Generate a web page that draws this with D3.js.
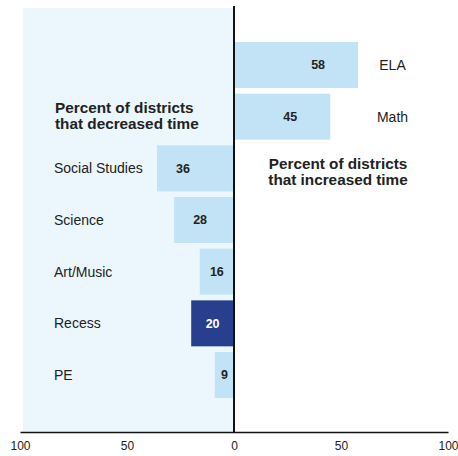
<!DOCTYPE html>
<html><head><meta charset="utf-8">
<script src="https://cdn.jsdelivr.net/npm/d3@7"></script>
<style>body{margin:0;background:#fff}svg{display:block}text{font-family:"Liberation Sans",Arial,sans-serif}</style>
</head><body><div id="chart"></div>
<script>
const categories = ["ELA","Math","Social Studies","Science","Art/Music","Recess","PE"];
const values = [58,45,-36,-28,-16,-20,-9];
const highlight = ["Recess"];
const tickValues = [-100,-50,0,50,100];
const leftTitle = ["Percent of districts","that decreased time"];
const rightTitle = ["Percent of districts","that increased time"];

const W=458,H=456;
const svg=d3.select("#chart").append("svg").attr("width",W).attr("height",H);
const x=d3.scaleLinear().domain([-100,100]).range([20,448]);
const y=d3.scaleBand().domain(categories).range([39.16,400.86]).paddingInner(0.11).paddingOuter(0.055);
const axisY=432;

// left panel
svg.append("rect").attr("x",23).attr("y",8).attr("width",x(0)-23).attr("height",axisY-8).attr("fill","#EBF7FD");

// bars
svg.selectAll("rect.bar").data(categories).join("rect").attr("class","bar")
 .attr("x",(d,i)=>x(Math.min(0,values[i])))
 .attr("width",(d,i)=>Math.abs(x(values[i])-x(0)))
 .attr("y",d=>y(d)).attr("height",y.bandwidth())
 .attr("fill",d=>highlight.includes(d)?"#283F8D":"#C2E3F6");

// value labels
svg.selectAll("text.val").data(categories).join("text").attr("class","val")
 .attr("x",(d,i)=>{const v=values[i];const w=Math.abs(x(v)-x(0));
   return v<0? x(v)+Math.min(w/2,26) : x(v)-Math.min(w/2,40);})
 .attr("y",d=>y(d)+y.bandwidth()/2).attr("dy","0.35em")
 .attr("text-anchor","middle").attr("font-size",12.5).attr("font-weight","bold")
 .attr("fill",d=>highlight.includes(d)?"#fff":"#222")
 .text((d,i)=>Math.abs(values[i]));

// category labels
svg.selectAll("text.cat").data(categories).join("text").attr("class","cat")
 .attr("x",(d,i)=>values[i]<0?54:392.5)
 .attr("text-anchor",(d,i)=>values[i]<0?"start":"middle")
 .attr("y",d=>y(d)+y.bandwidth()/2).attr("dy","0.35em")
 .attr("font-size",14).attr("fill","#222").text(d=>d);

// titles
const lt=svg.append("text").attr("x",55).attr("y",113).attr("font-size",15.3).attr("font-weight","bold").attr("fill","#222");
leftTitle.forEach((t,i)=>lt.append("tspan").attr("x",55).attr("dy",i?16:0).text(t));
const rt=svg.append("text").attr("x",338).attr("y",169).attr("text-anchor","middle").attr("font-size",15.3).attr("font-weight","bold").attr("fill","#222");
rightTitle.forEach((t,i)=>rt.append("tspan").attr("x",338).attr("dy",i?16:0).text(t));

// axis
const ax=svg.append("g").attr("transform",`translate(0,${axisY})`)
 .call(d3.axisBottom(x).tickValues(tickValues).tickSize(0).tickPadding(9).tickFormat(d=>Math.abs(d)));
ax.select(".domain").attr("stroke","#111").attr("stroke-width",1.5);
ax.selectAll("text").attr("font-size",12).attr("fill","#222").attr("font-family","Liberation Sans, Arial, sans-serif");

// zero line
svg.append("line").attr("x1",x(0)).attr("x2",x(0)).attr("y1",6).attr("y2",axisY).attr("stroke","#111").attr("stroke-width",2);
</script></body></html>
